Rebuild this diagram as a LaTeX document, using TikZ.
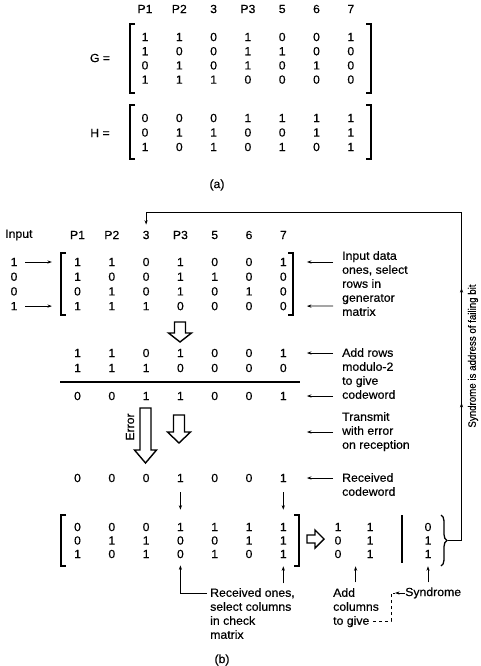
\documentclass[tikz,border=0pt]{standalone}
\usepackage{fontspec}
\setmainfont{Liberation Sans}[FakeStretch=1.04,FakeBold=0.35]
\newfontfamily\narrowsans{Liberation Sans}[FakeStretch=0.9,FakeBold=0.35]
\usetikzlibrary{arrows.meta,decorations.pathreplacing,decorations.markings,calc}
\begin{document}
\begin{tikzpicture}[x=1pt,y=-1pt,
  dig/.style={font=\fontsize{11.8}{14}\selectfont, inner sep=0pt},
  lbl/.style={font=\fontsize{11.8}{14}\selectfont, align=left, inner sep=0pt, anchor=north west},
  arr/.style={line width=0.8pt, -{Stealth[length=4.5pt,width=3.2pt]}},
  brk/.style={line width=1.7pt},
  hollow/.style={draw, line width=1.4pt, fill=white, line join=miter},
  thinl/.style={line width=0.9pt}]
\useasboundingbox (0,0) rectangle (481,666);

% ---------------- (a) ----------------
\foreach \lab [count=\c from 0] in {P1,P2,3,P3,5,6,7}
  \node[dig] (ah\c) at (145+34.3*\c, 9) {\lab};
\foreach \row [count=\r from 0] in {{1,1,0,1,0,0,1},{1,0,0,1,1,0,0},{0,1,0,1,0,1,0},{1,1,1,0,0,0,0}}
  \foreach \v [count=\c from 0] in \row
    \node[dig] (ag\r\c) at (145+34.3*\c, 37+14.2*\r) {\v};
\foreach \row [count=\r from 0] in {{0,0,0,1,1,1,1},{0,1,1,0,0,1,1},{1,0,1,0,1,0,1}}
  \foreach \v [count=\c from 0] in \row
    \node[dig] (aH\r\c) at (145+34.3*\c, 118+14.5*\r) {\v};
\node[dig] (Geq) at (100,58) {G =};
\node[dig] (Heq) at (100,133) {H =};
\draw[brk] (135,24) -- (130,24) -- (130,93) -- (135,93);
\draw[brk] (366,24) -- (371,24) -- (371,93) -- (366,93);
\draw[brk] (135,105) -- (130,105) -- (130,159) -- (135,159);
\draw[brk] (366,105) -- (371,105) -- (371,159) -- (366,159);
\node[dig] (capa) at (217,185) {(a)};

% ---------------- (b) ----------------
\node[dig, anchor=west] (binput) at (5,235) {Input};
\foreach \lab [count=\c from 0] in {P1,P2,3,P3,5,6,7}
  \node[dig] (bh\c) at (77.5+34.3*\c, 235) {\lab};
\foreach \v [count=\r from 0] in {1,0,0,1}
  \node[dig] (bi\r) at (14, 262+14.7*\r) {\v};
\foreach \row [count=\r from 0] in {{1,1,0,1,0,0,1},{1,0,0,1,1,0,0},{0,1,0,1,0,1,0},{1,1,1,0,0,0,0}}
  \foreach \v [count=\c from 0] in \row
    \node[dig] (bg\r\c) at (77.5+34.3*\c, 262+14.7*\r) {\v};
\draw[brk] (66,253) -- (61,253) -- (61,315) -- (66,315);
\draw[brk] (288,253) -- (293,253) -- (293,315) -- (288,315);
\draw[arr] ([xshift=7.5pt]bi0.east) -- ([xshift=-22pt]bg00.west);
\draw[arr] ([xshift=7.5pt]bi3.east) -- ([xshift=-22pt]bg30.west);

\node[lbl] (t1) at (342,251) {Input data\\ones, select\\rows in\\generator\\matrix};
\coordinate (la1) at (333,262);
\coordinate (la2) at (333,306);
\draw[arr] (la1) -- ([xshift=20pt]bg06.east);
\draw[arr] (la2) -- ([xshift=20pt]bg36.east);

% first hollow arrow
\draw[hollow] (174.5,322) -- (185.5,322) -- (185.5,333) -- (191.5,333) -- (180,342) -- (168.5,333) -- (174.5,333) -- cycle;

% sum
\foreach \row [count=\r from 0] in {{1,1,0,1,0,0,1},{1,1,1,0,0,0,0}}
  \foreach \v [count=\c from 0] in \row
    \node[dig] (bs\r\c) at (77.5+34.3*\c, 353+15*\r) {\v};
\draw[line width=1.4pt] (60,382) -- (300,382);
\foreach \v [count=\c from 0] in {0,0,1,1,0,0,1}
  \node[dig] (bc\c) at (77.5+34.3*\c, 396) {\v};
\node[lbl] (t2) at (342,348) {Add rows\\modulo-2\\to give\\codeword};
\coordinate (la3) at (333,353);
\coordinate (la4) at (333,396);
\draw[arr] (la3) -- ([xshift=20pt]bs06.east);
\draw[arr] (la4) -- ([xshift=20pt]bc6.east);

% transmit
\node[lbl] (t3) at (342,412) {Transmit\\with error\\on reception};
\coordinate (la5) at (333,432);
\draw[arr] (la5) -- ([xshift=20pt]bc6.east |- la5);
\draw[hollow] (140,408) -- (151,408) -- (151,450) -- (156.5,450) -- (145.5,463) -- (134.5,450) -- (140,450) -- cycle;
\node[dig, rotate=90] (err) at (130,427) {Error};
\draw[hollow] (173.5,415) -- (184.5,415) -- (184.5,432) -- (190.5,432) -- (179,443) -- (167.5,432) -- (173.5,432) -- cycle;

% received
\foreach \v [count=\c from 0] in {0,0,0,1,0,0,1}
  \node[dig] (br\c) at (77.5+34.3*\c, 478) {\v};
\node[lbl] (t4) at (342,473) {Received\\codeword};
\coordinate (la6) at (333,478);
\draw[arr] (la6) -- ([xshift=20pt]br6.east);

% check matrix
\foreach \row [count=\r from 0] in {{0,0,0,1,1,1,1},{0,1,1,0,0,1,1},{1,0,1,0,1,0,1}}
  \foreach \v [count=\c from 0] in \row
    \node[dig] (bH\r\c) at (77.5+34.3*\c, 527+13.5*\r) {\v};
\draw[brk] (66,515) -- (61,515) -- (61,566) -- (66,566);
\draw[brk] (294,515) -- (299,515) -- (299,566) -- (294,566);
\draw[arr, shorten <=10pt, shorten >=13pt] (br3) -- (bH03);
\draw[arr, shorten <=10pt, shorten >=13pt] (br6) -- (bH06);

\draw[hollow] (307,535) -- (315,535) -- (315,530) -- (324,539) -- (315,548) -- (315,543) -- (307,543) -- cycle;

\foreach \row [count=\r from 0] in {{1,1},{0,1},{0,1}}
  \foreach \v [count=\c from 0] in \row
    \node[dig] (sm\r\c) at (338+32*\c, 527+13.5*\r) {\v};
\draw[brk] (402,515) -- (402,563);
\foreach \v [count=\r from 0] in {0,1,1}
  \node[dig] (sy\r) at (428, 527+13.5*\r) {\v};
\draw[line width=1.3pt, decorate, decoration={brace, amplitude=6pt}] (441,515) -- (441,566);

% feedback
\coordinate (bt) at (448,540);
\coordinate (c1) at (461.5,540);
\coordinate (c2) at (461.5,212);
\draw[thinl] (bt) -- (c1);
\draw[thinl, postaction={decorate}, decoration={markings,
   mark=at position 0.418 with {\arrow{Stealth[length=4.5pt,width=3.2pt]}},
   mark=at position 0.768 with {\arrow{Stealth[length=4.5pt,width=3.2pt]}}}] (c1) -- (c2);
\draw[arr, shorten >=6pt] (c2) -| (bh2.north);
\node[inner sep=0pt, font=\narrowsans\fontsize{10.8}{13}\selectfont, rotate=90] (synlab) at (473,356) {Syndrome is address of failing bit};

% bottom labels
\node[lbl] (t5) at (210,588) {Received ones,\\select columns\\in check\\matrix};
\coordinate (k1) at (207,593);
\draw[arr, shorten >=7pt] (k1) -| (bH23.south);
\draw[arr, shorten >=8pt] ([yshift=-25pt]bH26.south) -- (bH26.south);
\coordinate (k3) at ($(sm20.south)!0.55!(sm21.south)$);
\draw[arr, shorten >=8pt] ([yshift=-24pt]k3) -- (k3);
\draw[arr, shorten >=8pt] ([yshift=-24pt]sy2.south) -- (sy2.south);

\node[lbl] (t6) at (333,588) {Add\\columns\\to give};
\node[dig, anchor=west] (syn) at (405,593) {Syndrome};
\coordinate (d1) at (373,621);
\coordinate (d2) at (391,593);
\draw[thinl, dash pattern=on 3pt off 3pt] (d1) -| (d2) -- ++(4,0);
\draw[arr] (syn.west) -- ([xshift=4pt]d2);

\node[dig] (capb) at (222,660) {(b)};
\end{tikzpicture}
\end{document}
